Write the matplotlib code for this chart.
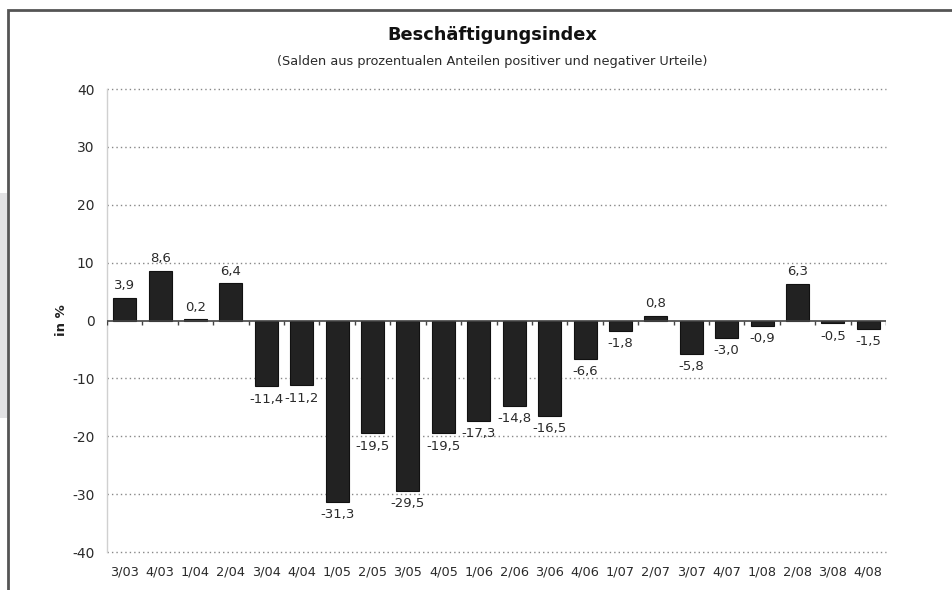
import numpy as np
import matplotlib.pyplot as plt
from matplotlib.patches import Rectangle

# quarters and index values (in %)
quarters = ['3/03', '4/03', '1/04', '2/04', '3/04', '4/04', '1/05', '2/05',
            '3/05', '4/05', '1/06', '2/06', '3/06', '4/06', '1/07', '2/07',
            '3/07', '4/07', '1/08', '2/08', '3/08', '4/08']
values = [3.9, 8.6, 0.2, 6.4, -11.4, -11.2, -31.3, -19.5, -29.5, -19.5,
          -17.3, -14.8, -16.5, -6.6, -1.8, 0.8, -5.8, -3.0, -0.9, 6.3,
          -0.5, -1.5]
y_ticks = [-40, -30, -20, -10, 0, 10, 20, 30, 40]

plt.rcParams['font.family'] = 'DejaVu Sans'
txt_col = '#2a2a2a'

fig = plt.figure(figsize=(9.52, 5.9), dpi=100)

# outer frame and grey tab on the left
fig.patches.append(Rectangle((0, 1 - 418 / 590), 7 / 952, 225 / 590,
                             transform=fig.transFigure, facecolor='#e2e2e4',
                             edgecolor='none', zorder=0))
fig.patches.append(Rectangle((8 / 952, -0.05), 1.1, 1 - 10 / 590 + 0.05,
                             transform=fig.transFigure, facecolor='none',
                             edgecolor='#555555', linewidth=2, zorder=1))

ax = fig.add_axes([107 / 952, 1 - 552 / 590, 779 / 952, 463 / 590])
ax.set_facecolor('none')

x = np.arange(len(quarters))
ax.bar(x, values, width=0.65, color='#222222', edgecolor='#111111',
       linewidth=0.8, zorder=3)

# dotted grid, solid zero line
for t in y_ticks:
    if t != 0:
        ax.axhline(t, color='#888888', linewidth=1.0,
                   linestyle=(0, (1, 2.2)), zorder=1, clip_on=False)
ax.axhline(0, color='#444444', linewidth=1.2, zorder=4)
ax.vlines(np.arange(len(quarters) + 1) - 0.5, -0.75, 0, color='#444444',
          linewidth=1, zorder=4)

# value labels
for xi, v in zip(x, values):
    lbl = f'{v:.1f}'.replace('.', ',')
    if v >= 0:
        ax.annotate(lbl, (xi, v), xytext=(0, 4), textcoords='offset points',
                    ha='center', va='bottom', fontsize=9.5, color=txt_col)
    else:
        ax.annotate(lbl, (xi, v), xytext=(0, -4.5), textcoords='offset points',
                    ha='center', va='top', fontsize=9.5, color=txt_col)

ax.set_xlim(-0.5, len(quarters) - 0.5)
ax.set_ylim(-40, 40)
ax.set_yticks(y_ticks)
ax.set_yticklabels([str(t) for t in y_ticks], fontsize=10, color=txt_col)
ax.set_xticks(x)
ax.set_xticklabels(quarters, fontsize=9.3, color=txt_col)
ax.tick_params(axis='both', length=0)
ax.tick_params(axis='y', pad=9)
ax.tick_params(axis='x', pad=10)

for s in ['top', 'right', 'bottom']:
    ax.spines[s].set_visible(False)
ax.spines['left'].set_color('#d0d0d0')
ax.spines['left'].set_linewidth(1)

ax.set_ylabel('in %', fontsize=9.5, fontweight='bold', color='#222222')
ax.yaxis.set_label_coords(-39 / 779, 0.5)

fig.text(492 / 952, 1 - 35 / 590, 'Beschäftigungsindex', ha='center',
         va='center', fontsize=12.8, fontweight='bold', color='#111111')
fig.text(492 / 952, 1 - 61 / 590,
         '(Salden aus prozentualen Anteilen positiver und negativer Urteile)',
         ha='center', va='center', fontsize=9.3, color=txt_col)

fig.savefig('out.png', dpi=100)
